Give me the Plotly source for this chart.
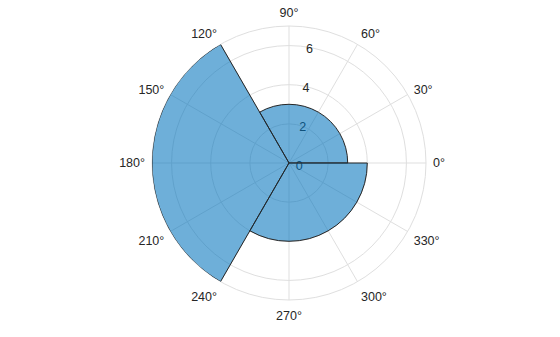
import plotly.graph_objects as go

bin_centers = [60, 180, 300]
bin_widths = [120, 120, 120]
counts = [3, 7, 4]
radial_ticks = [0, 2, 4, 6]
angle_ticks = list(range(0, 360, 30))

fig = go.Figure()
fig.add_trace(go.Barpolar(
    r=counts, theta=bin_centers, width=bin_widths,
    marker=dict(color="rgba(0,114,189,0.57)", line=dict(color="#262626", width=1)),
    showlegend=False,
))

grid = "#dfdfdf"
fig.update_layout(
    width=560, height=337,
    margin=dict(l=80, r=62, t=26, b=37),
    paper_bgcolor="white",
    font=dict(family="Liberation Sans, Arial", size=12.5, color="#262626"),
    polar=dict(
        bgcolor="white",
        bargap=0,
        radialaxis=dict(
            range=[0, 7], tickvals=radial_ticks, angle=85, tickangle=85,
            side="clockwise",
            showline=False, ticks="", gridcolor=grid, gridwidth=1,
            layer="below traces", tickfont=dict(size=12.5, color="#262626"),
        ),
        angularaxis=dict(
            rotation=0, direction="counterclockwise",
            tickvals=angle_ticks, ticktext=[f"{a}°" for a in angle_ticks],
            ticks="outside", ticklen=4, tickcolor="rgba(0,0,0,0)",
            showline=True, linecolor=grid, linewidth=1,
            gridcolor=grid, gridwidth=1, layer="below traces",
            tickfont=dict(size=12.5, color="#262626"),
        ),
    ),
)
fig.write_html("out.html")
